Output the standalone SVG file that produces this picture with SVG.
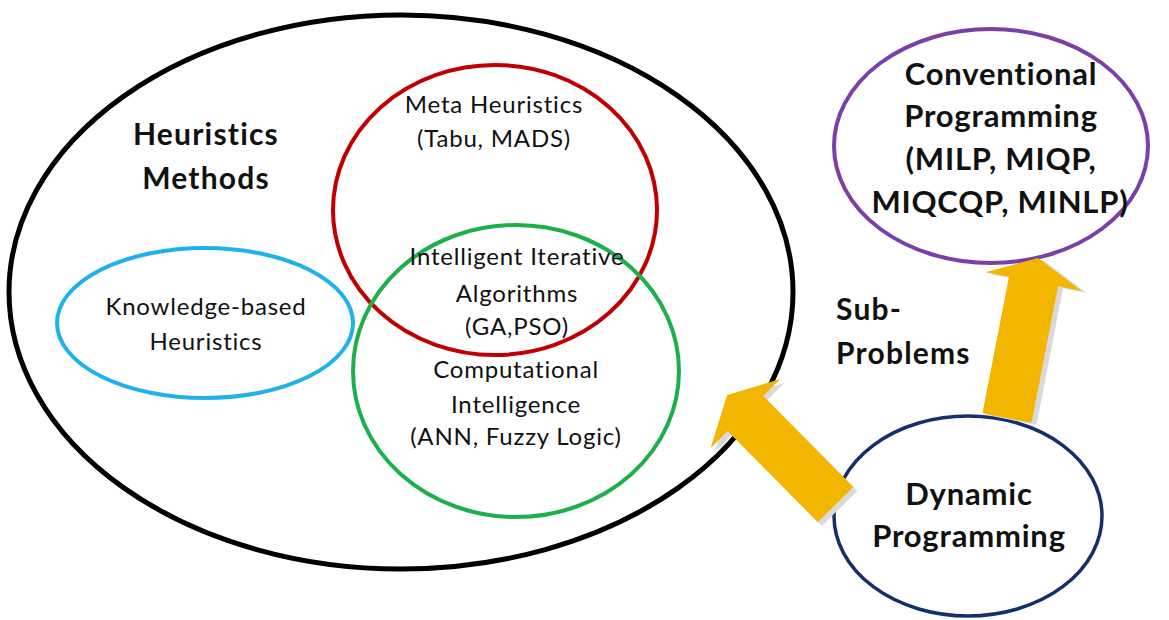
<svg xmlns="http://www.w3.org/2000/svg" width="1169" height="620" viewBox="0 0 1169 620">
  <style>
    .ring { fill: none; }
    .lbl { font-family: Lato, "Liberation Sans", sans-serif; font-size: 24px; letter-spacing: 0.8px; fill: #111; text-anchor: middle; }
    .bold { font-family: Lato, "Liberation Sans", sans-serif; font-weight: bold; font-size: 30px; letter-spacing: 1.2px; fill: #111; }
    .big { font-size: 31px; letter-spacing: 0.8px; text-anchor: middle; }
    .arrow { fill: #F2B600; }
    .shadow { fill: #d9d9d9; }
  </style>
  <rect width="1169" height="620" fill="#ffffff"/>

  <!-- outer heuristics set -->
  <g id="heuristics">
    <ellipse class="ring" cx="401" cy="292" rx="392" ry="277" stroke="#000" stroke-width="5"/>
    <text class="bold" x="206" y="145" text-anchor="middle">Heuristics</text>
    <text class="bold" x="206" y="189" text-anchor="middle">Methods</text>
  </g>

  <g id="meta-heuristics">
    <ellipse class="ring" cx="495" cy="210" rx="162" ry="145" stroke="#C00000" stroke-width="4"/>
    <text class="lbl" x="494" y="113">Meta Heuristics</text>
    <text class="lbl" x="494" y="147">(Tabu, MADS)</text>
  </g>

  <g id="computational-intelligence">
    <ellipse class="ring" cx="516" cy="371" rx="163" ry="146" stroke="#1DB04A" stroke-width="4"/>
    <text class="lbl" x="516" y="378">Computational</text>
    <text class="lbl" x="516" y="413">Intelligence</text>
    <text class="lbl" x="516" y="445">(ANN, Fuzzy Logic)</text>
  </g>

  <g id="intelligent-iterative">
    <text class="lbl" x="517" y="265">Intelligent Iterative</text>
    <text class="lbl" x="517" y="302">Algorithms</text>
    <text class="lbl" x="517" y="335">(GA,PSO)</text>
  </g>

  <g id="knowledge-based">
    <ellipse class="ring" cx="205" cy="323" rx="148" ry="75" stroke="#1FB1EE" stroke-width="4"/>
    <text class="lbl" x="206" y="315">Knowledge-based</text>
    <text class="lbl" x="206" y="350">Heuristics</text>
  </g>

  <g id="conventional">
    <ellipse class="ring" cx="991" cy="146" rx="157" ry="117" stroke="#7B3FA8" stroke-width="4"/>
    <text class="bold big" x="1001" y="85">Conventional</text>
    <text class="bold big" x="1001" y="127">Programming</text>
    <text class="bold big" x="1001" y="170">(MILP, MIQP,</text>
    <text class="bold big" x="1000" y="213">MIQCQP, MINLP)</text>
  </g>

  <g id="dynamic">
    <ellipse class="ring" cx="968" cy="516" rx="134" ry="100" stroke="#14306B" stroke-width="3.5"/>
    <text class="bold big" x="969" y="505">Dynamic</text>
    <text class="bold big" x="969" y="547">Programming</text>
  </g>

  <g id="sub-problems">
    <text class="bold" x="836" y="320">Sub-</text>
    <text class="bold" x="836" y="364">Problems</text>
  </g>

  <!-- block arrows, drawn along +x then rotated into place; soft grey drop shadow below each -->
  <defs>
    <polygon id="arrow1" points="0,-25 128,-25 128,-49 154,0 128,49 128,25 0,25"/>
    <polygon id="arrow2" points="0,-25 139,-25 139,-49 163,0 139,49 139,25 0,25"/>
  </defs>
  <g id="connectors">
    <g transform="translate(4,4)">
      <use href="#arrow1" class="shadow" transform="translate(835.5,504.5) rotate(-134.7)"/>
    </g>
    <use href="#arrow1" class="arrow" transform="translate(835.5,504.5) rotate(-134.7)"/>
    <g transform="translate(5,2)">
      <use href="#arrow2" class="shadow" transform="translate(1007,418) rotate(-79)"/>
    </g>
    <use href="#arrow2" class="arrow" transform="translate(1007,418) rotate(-79)"/>
  </g>
</svg>
